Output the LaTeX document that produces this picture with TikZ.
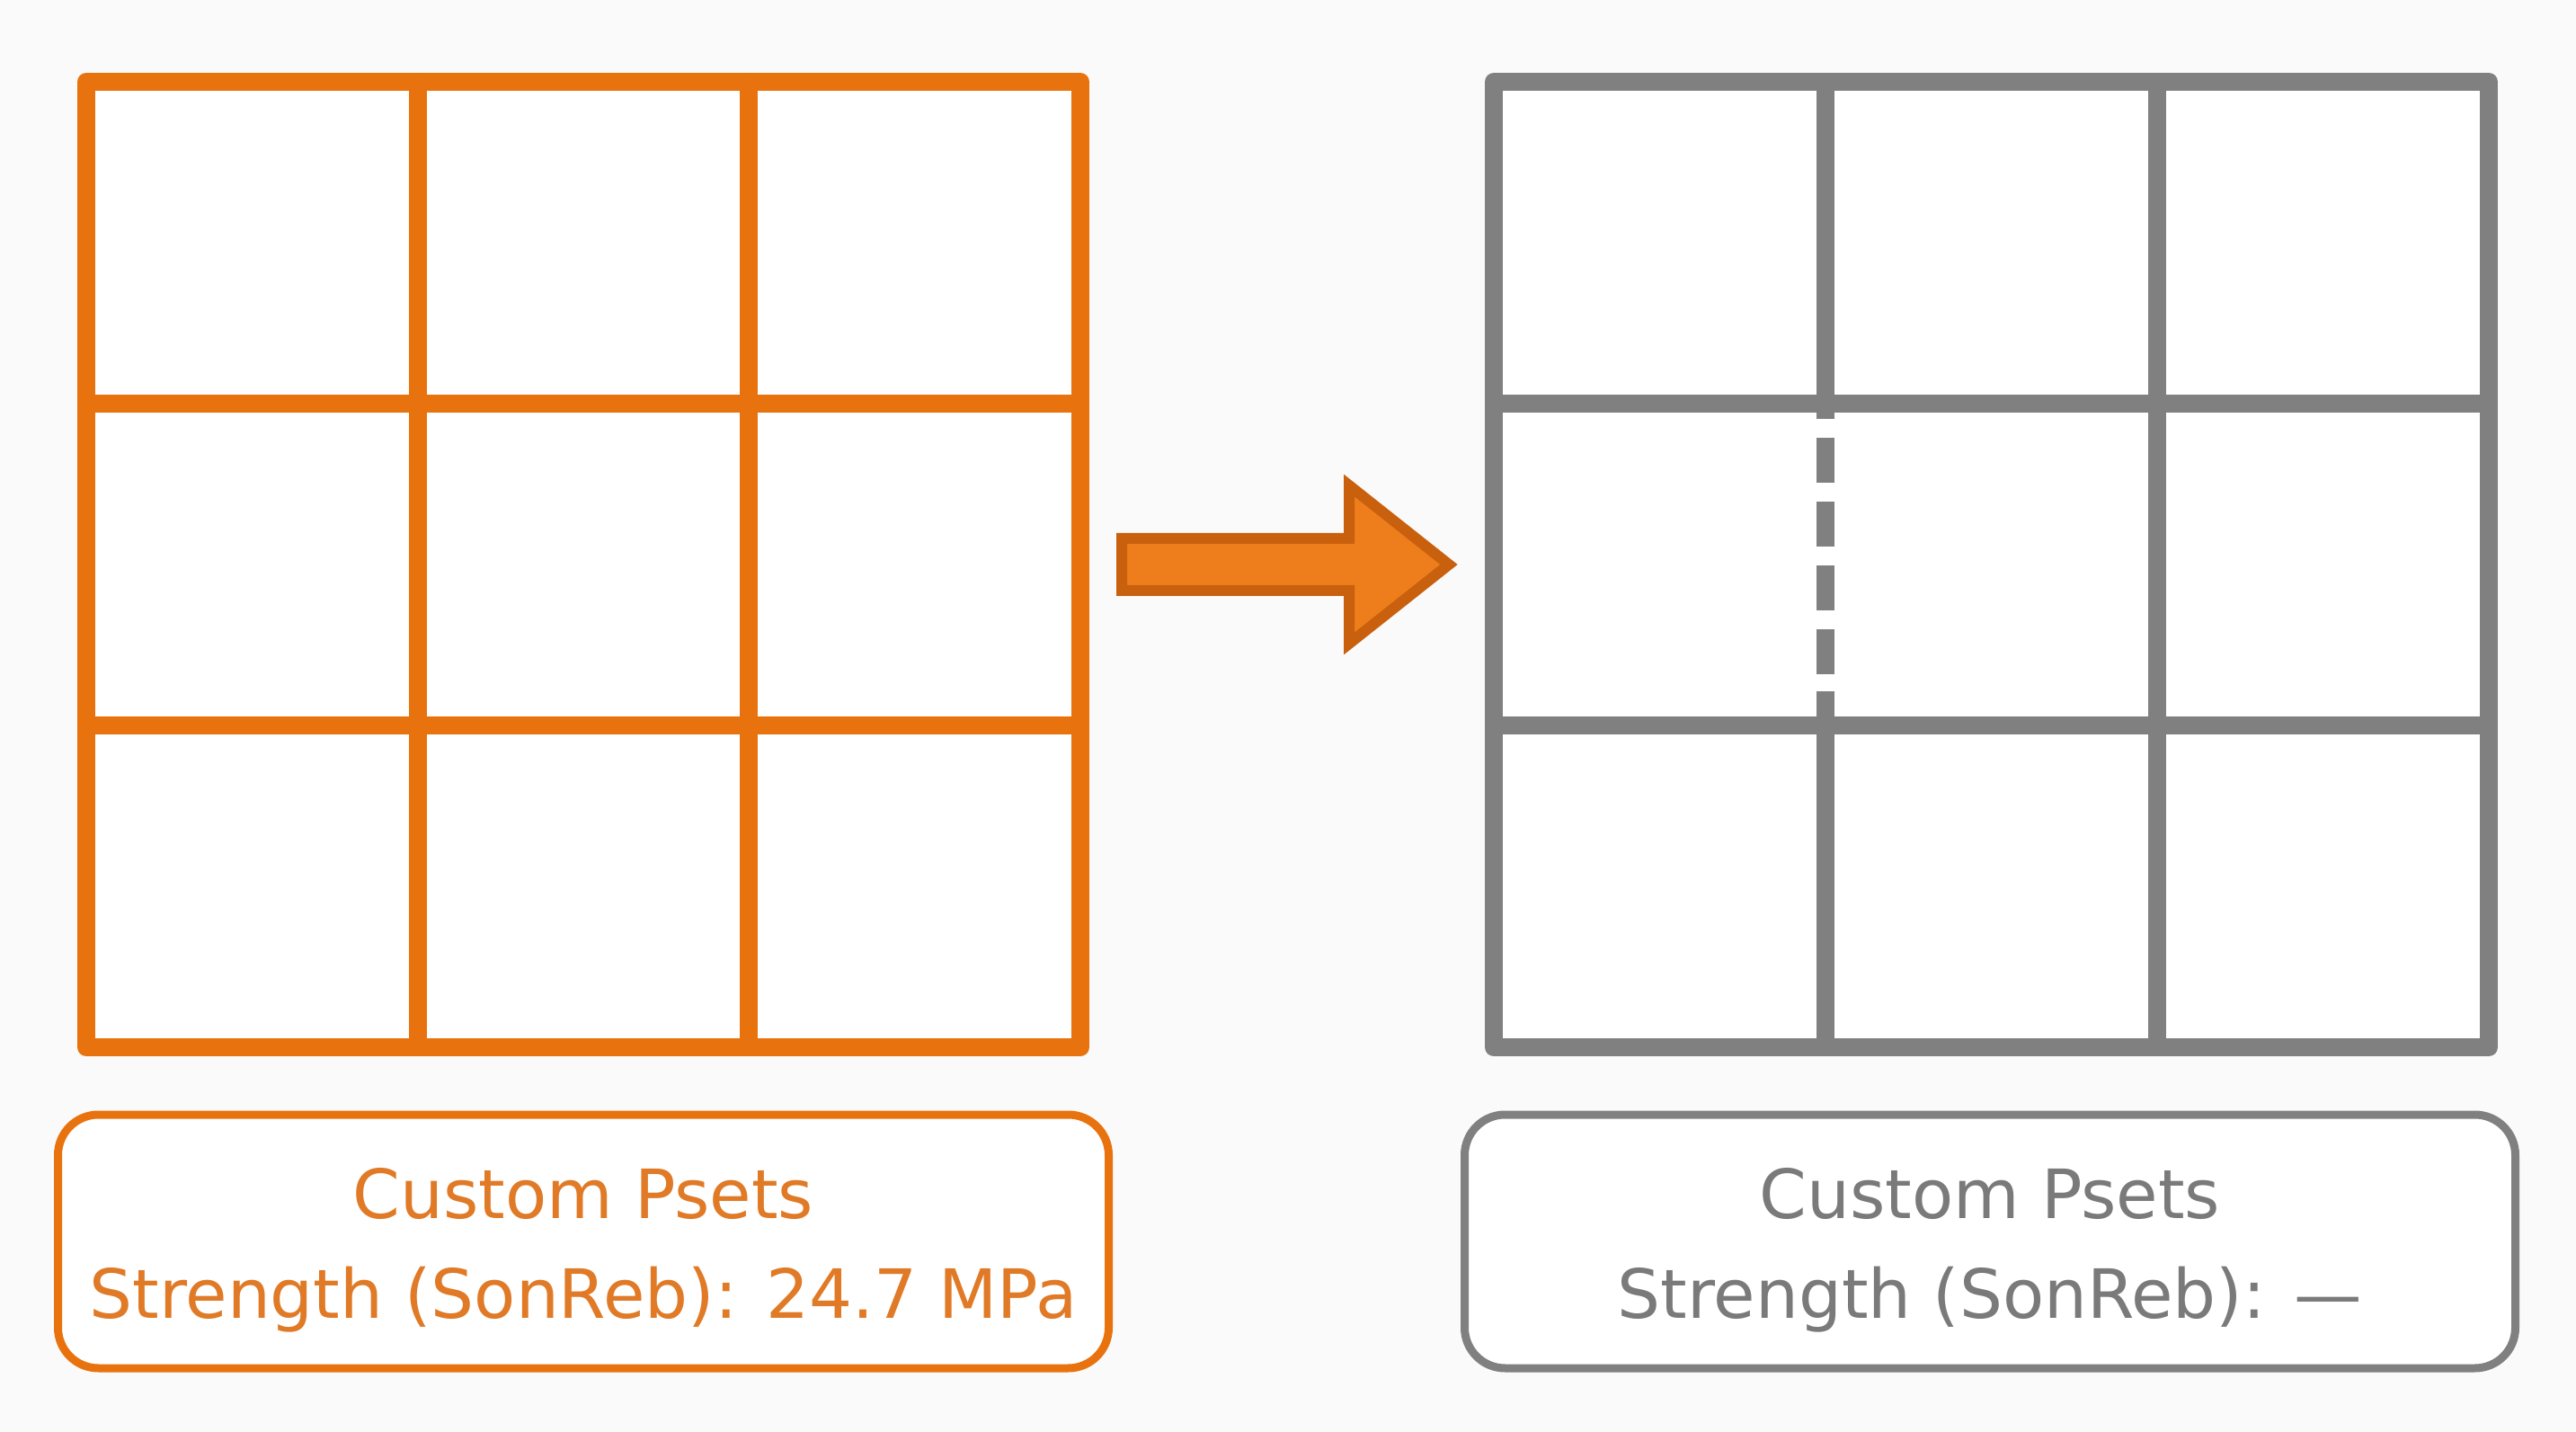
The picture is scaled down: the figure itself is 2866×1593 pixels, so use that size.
\documentclass[tikz,border=0pt]{standalone}
\usepackage{fontspec}
\setmainfont{DejaVu Sans}
\definecolor{org}{HTML}{E8730E}
\definecolor{orgtxt}{HTML}{E07A26}
\definecolor{orgdark}{HTML}{C9600E}
\definecolor{orgfill}{HTML}{EE7E1C}
\definecolor{gry}{HTML}{808080}
\definecolor{grytxt}{HTML}{7A7A7A}
\definecolor{bg}{HTML}{FAFAFA}
\begin{document}
\begin{tikzpicture}[x=0.1mm,y=-0.1mm,
  gridline/.style={line width=2mm,line join=round,line cap=round},
  labelbox/.style={draw,line width=0.9mm,rounded corners=4.5mm,fill=white,
    minimum width=116.9mm,minimum height=28.2mm,inner sep=0pt},
  labeltext/.style={align=center,inner sep=0pt,
    font=\fontsize{21.5}{31.6}\selectfont}]
\fill[bg] (0,0) rectangle (2866,1593);
\useasboundingbox (0,0) rectangle (2866,1593);
% left grid
\draw[gridline,org,fill=white] (96,91) rectangle (1202,1165);
\draw[gridline,org] (465,91) -- (465,1165) (833,91) -- (833,1165)
  (96,449) -- (1202,449) (96,807) -- (1202,807);
% right grid
\draw[gridline,gry,fill=white] (1662,91) rectangle (2769,1165);
\draw[gridline,gry] (2400,91) -- (2400,1165)
  (1662,449) -- (2769,449) (1662,807) -- (2769,807);
\draw[line width=2mm,gry] (2031,91) -- (2031,466) (2031,769) -- (2031,1165);
\draw[line width=2mm,gry,dash pattern=on 5mm off 2.1mm] (2031,487) -- (2031,750);
% arrow
\draw[line width=1.2mm,orgdark,fill=orgfill,line join=miter]
  (1248,599) -- (1501,599) -- (1501,540) -- (1612,628) -- (1501,716) -- (1501,657) -- (1248,657) -- cycle;
% label boxes
\node[labelbox,draw=org] (lbox) at (649,1381) {};
\node[labeltext,text=orgtxt] (ltext) at ([yshift=-1.0mm]lbox.center) {Custom Psets\\Strength (SonReb): 24.7 MPa};
\node[labelbox,draw=gry] (rbox) at (2214,1381) {};
\node[labeltext,text=grytxt] (rtext) at ([yshift=-1.0mm]rbox.center) {Custom Psets\\Strength (SonReb): —};
\end{tikzpicture}
\end{document}
